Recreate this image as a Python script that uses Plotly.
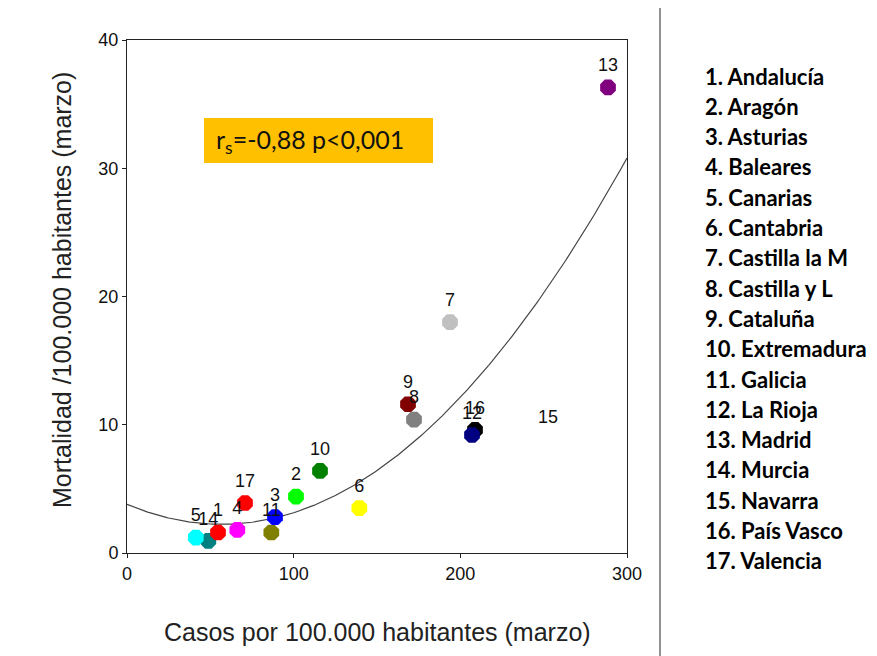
import numpy as np
import plotly.graph_objects as go

# Data
ids = [str(i) for i in range(1, 18)]
regions = ["Andalucía", "Aragón", "Asturias", "Baleares", "Canarias", "Cantabria",
           "Castilla la M", "Castilla y L", "Cataluña", "Extremadura", "Galicia",
           "La Rioja", "Madrid", "Murcia", "Navarra", "País Vasco", "Valencia"]
casos = [54.6, 101.4, 88.8, 66.2, 41.3, 139.4, 193.8, 172.2, 168.6, 115.8, 86.6,
         207.0, 288.6, 48.8, 252.6, 208.8, 70.8]
mortalidad = [1.6, 4.4, 2.8, 1.8, 1.2, 3.5, 18.0, 10.4, 11.6, 6.4, 1.6,
              9.2, 36.3, 0.95, 8.9, 9.6, 3.9]
colores = ["#FF0000", "#00FF00", "#0000FF", "#FF00FF", "#00FFFF", "#FFFF00",
           "#C0C0C0", "#808080", "#800000", "#008000", "#808000", "#000080",
           "#800080", "#008080", "rgba(255,255,255,0)", "#000000", "#FF0000"]

# quadratic fit coefficients (c0 + c1*x + c2*x^2)
fit_coef = [3.8, -0.0549, 0.000483]
x_ticks = [0, 100, 200, 300]
y_ticks = [0, 10, 20, 30, 40]

W, H = 877, 656
L, R, T, B = 127, 627, 40, 553

def px_x(p):
    return (p - L) / (R - L)

def px_y(p):
    return (B - p) / (B - T)

fig = go.Figure()

xf = np.linspace(0, 300, 301)
yf = fit_coef[0] + fit_coef[1] * xf + fit_coef[2] * xf ** 2
fig.add_trace(go.Scatter(x=xf, y=yf, mode="lines",
                         line=dict(color="#444444", width=1.2),
                         hoverinfo="skip", showlegend=False))

order = list(range(16, -1, -1))
fig.add_trace(go.Scatter(
    x=[casos[i] for i in order],
    y=[mortalidad[i] for i in order],
    text=[ids[i] for i in order],
    mode="markers+text",
    textposition="top center",
    textfont=dict(family="Liberation Sans", size=18, color="#111111"),
    marker=dict(symbol="octagon", size=17, color=[colores[i] for i in order],
                line=dict(width=0)),
    cliponaxis=False,
    showlegend=False,
))

axis_common = dict(showgrid=False, zeroline=False, showline=True, linecolor="#222222",
                   linewidth=1, mirror=True, ticks="outside", ticklen=4,
                   tickcolor="#222222",
                   tickfont=dict(family="Liberation Sans", size=18, color="#111111"))

fig.update_xaxes(range=[0, 300], tickvals=x_ticks, **axis_common)
fig.update_yaxes(range=[0, 40], tickvals=y_ticks, **axis_common)

annotations = []
# axis titles
annotations.append(dict(text="Casos por 100.000 habitantes (marzo)", xref="paper", yref="paper",
                        x=px_x(377), y=px_y(632), xanchor="center", yanchor="middle",
                        showarrow=False,
                        font=dict(family="Liberation Sans", size=25, color="#222222")))
annotations.append(dict(text="Mortalidad /100.000 habitantes (marzo)", xref="paper", yref="paper",
                        x=px_x(62), y=px_y(290), xanchor="center", yanchor="middle",
                        textangle=-90, showarrow=False,
                        font=dict(family="Liberation Sans", size=25, color="#222222")))
# correlation box text
annotations.append(dict(text="r<sub>s</sub>=-0,88 p&lt;0,001", xref="paper", yref="paper",
                        x=px_x(214), y=px_y(141), xanchor="left", yanchor="middle",
                        showarrow=False,
                        font=dict(family="Lato", size=25, color="#111111")))
# region list
for i, name in enumerate(regions):
    annotations.append(dict(text=f"<b>{ids[i]}. {name}</b>", xref="paper", yref="paper",
                            x=px_x(703), y=px_y(76 + 30.3 * i), xanchor="left",
                            yanchor="middle", showarrow=False,
                            font=dict(family="Lato", size=22, color="#000000")))

shapes = [
    dict(type="rect", xref="paper", yref="paper", x0=px_x(204), x1=px_x(433),
         y0=px_y(163), y1=px_y(118), fillcolor="#FFC000", line=dict(width=0), layer="below"),
    dict(type="line", xref="paper", yref="paper", x0=px_x(660), x1=px_x(660),
         y0=px_y(8), y1=px_y(656), line=dict(color="#222222", width=1)),
]

fig.update_layout(width=W, height=H, margin=dict(l=L, r=W - R, t=T, b=H - B),
                  plot_bgcolor="white", paper_bgcolor="white",
                  annotations=annotations, shapes=shapes)

fig.write_html("out.html")
